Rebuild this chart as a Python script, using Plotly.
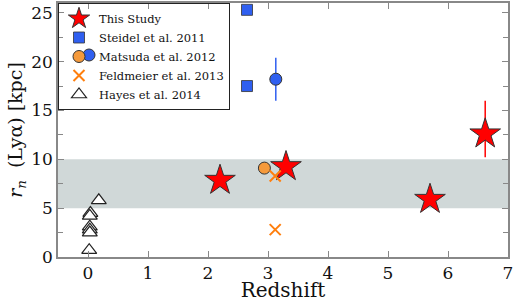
import plotly.graph_objects as go

# This Study
this_z = [2.2, 3.3, 5.7, 6.62]
this_r = [7.85, 9.25, 5.9, 12.6]
this_err_plus = [0, 0, 0, 3.4]
this_err_minus = [0, 0, 0, 2.4]

# Steidel et al. 2011
steidel_z = [2.65, 2.65]
steidel_r = [25.3, 17.5]

# Matsuda et al. 2012
matsuda_orange_z = [2.94]
matsuda_orange_r = [9.1]
matsuda_blue_z = [3.13]
matsuda_blue_r = [18.2]
matsuda_blue_err_plus = [2.2]
matsuda_blue_err_minus = [2.2]

# Feldmeier et al. 2013
feld_z = [3.12, 3.12]
feld_r = [8.3, 2.8]

# Hayes et al. 2014
hayes_z = [0.18, 0.04, 0.03, 0.03, 0.03, 0.03, 0.02]
hayes_r = [5.8, 4.5, 4.2, 3.1, 2.8, 2.5, 0.7]

band_low, band_high = 5, 10
x_ticks = [0, 1, 2, 3, 4, 5, 6, 7]
y_ticks = [0, 5, 10, 15, 20, 25]

FONT = "DejaVu Serif"
ORANGE = "#f59a3c"
BLUE = "#2f5ff0"
XORANGE = "#ff7f0e"

fig = go.Figure()

fig.add_shape(type="rect", xref="paper", x0=0, x1=1, yref="y",
              y0=band_low, y1=band_high, fillcolor="#d0d8d8",
              line=dict(width=0), layer="below")

fig.add_trace(go.Scatter(
    x=this_z, y=this_r, mode="markers", name="This Study",
    marker=dict(symbol="star", size=23, color="#ff0000",
                line=dict(color="#333333", width=1)),
    error_y=dict(type="data", array=this_err_plus, arrayminus=this_err_minus,
                 color="#ff0000", thickness=1.5, width=0),
))
fig.add_trace(go.Scatter(
    x=steidel_z, y=steidel_r, mode="markers", name="Steidel et al. 2011",
    marker=dict(symbol="square", size=11, color=BLUE,
                line=dict(color="#333333", width=0.8)),
))
fig.add_trace(go.Scatter(
    x=matsuda_orange_z, y=matsuda_orange_r, mode="markers",
    name="Matsuda et al. 2012",
    marker=dict(symbol="circle", size=12, color=ORANGE,
                line=dict(color="#333333", width=1)),
))
fig.add_trace(go.Scatter(
    x=matsuda_blue_z, y=matsuda_blue_r, mode="markers",
    name="Matsuda et al. 2012", showlegend=False,
    marker=dict(symbol="circle", size=12, color=BLUE,
                line=dict(color="#333333", width=1)),
    error_y=dict(type="data", array=matsuda_blue_err_plus,
                 arrayminus=matsuda_blue_err_minus,
                 color=BLUE, thickness=1.5, width=0),
))
fig.add_trace(go.Scatter(
    x=feld_z, y=feld_r, mode="markers", name="Feldmeier et al. 2013",
    marker=dict(symbol="x-thin-open", size=11, color=XORANGE,
                line=dict(color=XORANGE, width=2)),
))
fig.add_trace(go.Scatter(
    x=hayes_z, y=hayes_r, mode="markers", name="Hayes et al. 2014",
    marker=dict(symbol="triangle-up", size=13, color="white",
                line=dict(color="#222222", width=1.2)),
))

# second (blue) circle shown beside the orange one in the Matsuda legend row
fig.add_shape(type="circle", xref="paper", yref="paper",
              xsizemode="pixel", ysizemode="pixel", xanchor=0, yanchor=1,
              x0=25, x1=37, y0=-58, y1=-46,
              fillcolor=BLUE, line=dict(color="#333333", width=1), layer="above")

axis_common = dict(
    showline=True, linecolor="#888888", linewidth=1.5, mirror="ticks",
    ticks="inside", tickcolor="#888888", tickwidth=1.2,
    showgrid=False, zeroline=False, automargin=False,
    tickfont=dict(family=FONT, size=17, color="#111111"),
)

fig.update_xaxes(range=[-0.5, 7], tickvals=x_ticks, ticklen=6,
                 title=dict(text="Redshift", font=dict(family=FONT, size=20, color="#111111"),
                            standoff=0),
                 **axis_common)
fig.update_yaxes(range=[0, 26], tickvals=y_ticks, ticklen=6,
                 minor=dict(dtick=2.5, ticks="inside", ticklen=5, tickcolor="#888888", tickwidth=1.2),
                 title=dict(text="<i>r</i><sub><i>n</i></sub>  (Lyα) [kpc]",
                            font=dict(family=FONT, size=19, color="#111111"), standoff=4),
                 **axis_common)

fig.update_layout(
    width=516, height=302,
    margin=dict(l=58, r=8, t=3, b=45, autoexpand=False),
    plot_bgcolor="white", paper_bgcolor="white",
    font=dict(family=FONT, color="#111111"),
    legend=dict(x=0, y=1, xanchor="left", yanchor="top",
                bgcolor="rgba(255,255,255,0)", bordercolor="#222222", borderwidth=1,
                font=dict(family=FONT, size=11.5, color="#111111"),
                tracegroupgap=0, itemwidth=30),
)

fig.write_html("out.html", config={"displayModeBar": False},
               post_script="document.body.style.margin='0';document.body.style.overflow='hidden';")
